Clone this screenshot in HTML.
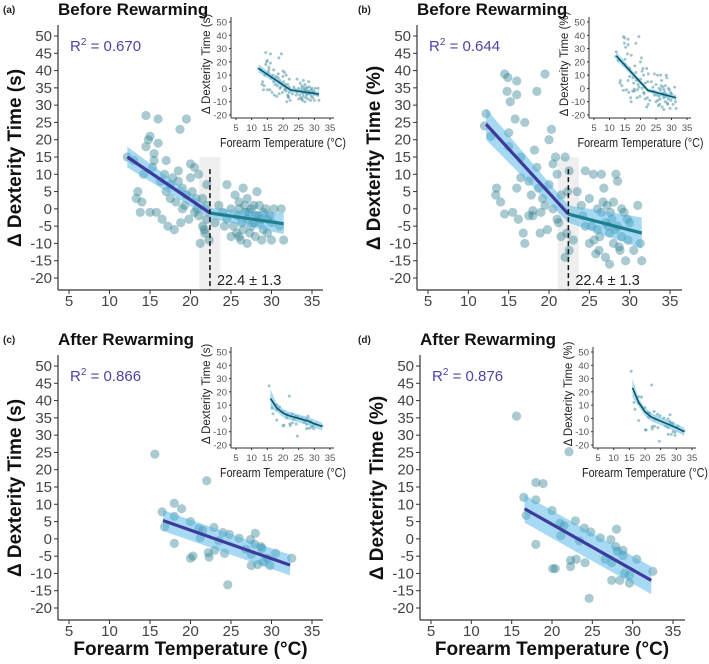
<!DOCTYPE html>
<html><head><meta charset="utf-8"><style>
body{margin:0;background:#fff;}
svg{display:block;font-family:"Liberation Sans",sans-serif;}
</style></head><body>
<svg id="chart" width="709" height="664" viewBox="0 0 709 664"></svg>
<script>
const aX=[12.2,13,13.3,13.5,14,14.5,14.5,14.8,15,15,15.5,15.5,15.8,16,16,16.3,16.5,17,17,17.2,17.5,17.5,18,18.2,18.5,18.5,18.7,18.8,19,19.3,19.5,19.5,19.8,20,20,20.2,20.5,20.5,20.8,21,21,21.2,21.5,21.5,21.8,22,22,22,22.3,16.8,17.8,14.2,13.8,15.3,19,20.7,21.7,23,23.5,24,24.5,24.5,25,25,25.3,25.5,25.8,26,26,26.3,26.5,26.5,26.8,27,27,27,27.3,27.5,27.5,27.8,28,28,28.2,28.5,28.5,28.8,29,29,29.3,29.5,29.5,30,30,30.3,31,31.2,31.5,26.2,27.8,28.3,29.8,25.7,24.2,26.7,28.7,27.2,26];
const aY=[15,14,3,5,2,27,18,20,21,-1,16,14,-1,26,19,8,-3,14,5,-5,7,3,-6,2,11,8,23,-4,6,1,26,4,-3,13,9,5,12,-1,0,10,-2,-10,3,-5,-7,7,1,-3,-9,10,9,10,-1,12,0,3,-6,-4,1,-1,-3,7,-8,0,-5,4,-2,-8,2,-4,6,-6,-1,-10,3,-3,-7,0,-5,1,-2,-8,5,-4,1,-9,-1,-6,0,-3,-7,-9,-4,0,-5,0,-9,-9,-4,-2,-2,-7,-5,1,-3,-1,0];
const bX=[12,12.2,12.8,13.4,13.5,14,14.5,14.5,14.8,14.9,15,15,15.2,15.5,15.8,16,16,16,16.2,16.5,16.8,17,17,17.5,17.8,18,18.2,18.5,18.5,18.7,18.9,19,19.5,19.5,19.8,20,20,20.3,20.5,20.5,20.8,21,21,21.2,21.5,21.5,22,22,22.2,22.3,22.5,22.5,16.5,17.5,18,19.2,23,23.5,24,24.5,24.5,25,25,25.3,25.5,25.8,26,26,26.3,26.5,26.5,26.8,27,27,27.2,27.5,27.5,27.8,28,28,28.3,28.5,28.5,28.8,29,29,29.3,29.5,29.8,30,30.5,31,31.3,31.5,26.2,27.6,28.2,29.7,25.6,24.2,26.7,28.7,27.3];
const bY=[24,27.5,21,4,6,2,39,-1.5,34,38,18,22,31,-1,26,37,33,6,-3,9,-7,25,-10,8,4,-2,17,34,12,6,-7,-1,39,1,-6,7,20,23,0,13,15,-3,10,-4,4,-8,-14,15,-7,5,-12,11,15,-2,-0.5,3,-9,5,1,-5,11,-10,3,-5,10,-13,0,-6,-8,10,-1,6,-14,-4,1,-7,-16,-3,2,-10,10,-5,8,-12,0,-8,-1,-15,-9,-4,-12,1,-10,-15,-12,-1,-6,-3,-9,-2,2,-11,-5];
const cX=[15.6,16.5,16.8,18,18,18,18.9,20,20,20.3,21,21.2,21.5,22,22.2,22.3,22.9,23,23.5,24,24.2,24.6,24.8,26,26.8,27.4,27.5,27.5,27.9,28,28.3,28.7,28.8,29,29.5,29.8,30.5,32.5];
const cY=[24.5,7.8,3.5,10.3,6.5,-1.3,8.7,5,-5.6,-5,3,0.3,2.5,16.8,-4,-5.3,3.3,-3.3,-0.5,1.8,-4.2,-13.3,1.3,0.2,-3,-0.2,-4.5,-7.7,-1.5,1.6,-7.4,-2.2,-2.8,-6.6,-5.6,-7.7,-4.2,-5.6];
const dX=[15.6,16.5,16.8,18,18,18,18.9,20,20.1,20.4,21,21.1,21.5,22.1,22.3,22.3,22.9,23,23.4,24,24.1,24.6,24.8,26,26.6,27.3,27.4,27.4,27.9,28,28.1,28.4,28.8,28.8,29,29.6,29.6,30.5,32.5];
const dY=[35.5,12,6.8,16.3,11.3,-1.6,16,8.2,-8.6,-8.6,4.5,0.9,3.8,25.2,-6.2,-8,5.2,-5.9,-0.6,3.1,-6.9,-17.2,2,0.3,-5.9,-0.2,-6.9,-12,-2.2,2.8,-3.6,-12,-3.3,-4.8,-9.9,-10.5,-12.8,-5.9,-9.4];
// segmented fits: [x0,y0,xbreak,ybreak,x1,y1]
const aFit=[12.2,15,22.4,-1.2,31.5,-4.3];
const bFit=[12.2,24.5,22.4,-1.5,31.5,-7];
const cFit=[16.6,5.3,32.3,-7.6];
const dFit=[16.6,8.7,32.3,-12];
const cCurveX=[16,18,20,22,25,28,30,32.5];
const cCurveY=[15,8,4,2,0,-2,-4,-6];
const dCurveX=[16,18,20,22,25,28,30,32.5];
const dCurveY=[23,12,5,1,-2,-5,-7,-10];
const yTicks=[50,45,40,35,30,25,20,15,10,5,0,-5,-10,-15,-20];
const xTicks=[5,10,15,20,25,30,35];
const inYTicks=[50,40,30,20,10,0,-10,-20];

const NS="http://www.w3.org/2000/svg";
const svg=document.getElementById('chart');
function el(tag,attrs,parent,txt){const e=document.createElementNS(NS,tag);for(const k in attrs)e.setAttribute(k,attrs[k]);if(txt!==undefined)e.textContent=txt;(parent||svg).appendChild(e);return e;}

function panel(p){
  const g=el('g',{});
  
  
  const sx=v=>p.x5+(v-5)*(p.x35-p.x5)/30;
  const sy=v=>p.y0+36+(50-v)*(242/70);
  const top=p.y0+25,bot=p.y0+290,ax=p.x5-11,right=p.x5+254;
  let t=el('text',{x:p.lx,y:p.y0+13,'font-size':10,'font-weight':'bold',fill:'#222'},g,'('+p.id+')');
  
  t=el('text',{x:ax,y:p.y0+15,'font-size':17,'font-weight':'bold',fill:'#111'},g,p.title);
  
  if(p.brk){
    const r=el('rect',{x:sx(p.brk-1.3),y:sy(15),width:sx(p.brk+1.3)-sx(p.brk-1.3),height:bot-sy(15),fill:'#e8e8e8',opacity:0.7},g);
    
  }
  for(let i=0;i<p.X.length;i++){
    const c=el('circle',{cx:sx(p.X[i]),cy:sy(p.Y[i]),r:4.6,fill:'#2f8090','fill-opacity':0.42},g);
    
  }
  const segs=[];
  if(p.fit.length===6){segs.push([p.fit[0],p.fit[1],p.fit[2],p.fit[3],'#3d3a9c']);segs.push([p.fit[2],p.fit[3],p.fit[4],p.fit[5],'#1d7f8e']);}
  else segs.push([p.fit[0],p.fit[1],p.fit[2],p.fit[3],'#3d3a9c']);
  segs.forEach((s,k)=>{
    const wm=p.bandm;
    const w1=(k===0&&segs.length>1)?wm:p.band0;
    const wa=(k===1)?wm:p.band0;
    const poly=[[s[0],s[1]+wa],[s[2],s[3]+w1],[s[2],s[3]-w1],[s[0],s[1]-wa]].map(q=>sx(q[0])+','+sy(q[1])).join(' ');
    const b=el('polygon',{points:poly,fill:'#4fb3e6','fill-opacity':0.5},g);
    
  });
  segs.forEach(s=>{
    const l=el('line',{x1:sx(s[0]),y1:sy(s[1]),x2:sx(s[2]),y2:sy(s[3]),stroke:s[4],'stroke-width':3.2},g);
    
  });
  if(p.brk){
    const l=el('line',{x1:sx(p.brk),y1:sy(11.5),x2:sx(p.brk),y2:bot,stroke:'#111','stroke-width':1.5,'stroke-dasharray':'5,3'},g);
    
    t=el('text',{x:sx(p.brk)+7,y:p.y0+285,'font-size':14.5,fill:'#222'},g,'22.4 ± 1.3');
    
  }
  let a=el('line',{x1:ax,y1:top,x2:ax,y2:bot,stroke:'#333','stroke-width':1.2},g);
  
  a=el('line',{x1:ax,y1:bot,x2:right,y2:bot,stroke:'#333','stroke-width':1.2},g);
  
  yTicks.forEach(v=>{
    el('line',{x1:ax-4,y1:sy(v),x2:ax,y2:sy(v),stroke:'#333'},g);
    const tt=el('text',{x:ax-6,y:sy(v)+5,'font-size':15,fill:'#444','text-anchor':'end'},g,v);
    
  });
  xTicks.forEach(v=>{
    el('line',{x1:sx(v),y1:bot,x2:sx(v),y2:bot+4,stroke:'#333'},g);
    const tt=el('text',{x:sx(v),y:bot+16,'font-size':15,fill:'#444','text-anchor':'middle'},g,v);
    
  });
  t=el('text',{x:0,y:0,'font-size':19,'font-weight':'bold',fill:'#111','text-anchor':'middle',transform:`translate(${ax-37},${p.y0+158}) rotate(-90)`},g,'Δ Dexterity Time ('+p.unit+')');
  
  if(p.xtitle){
    t=el('text',{x:sx(20),y:p.y0+325,'font-size':19,'font-weight':'bold',fill:'#111','text-anchor':'middle'},g,'Forearm Temperature (°C)');
    
  }
  t=el('text',{x:ax+12,y:p.y0+51,'font-size':15,fill:'#4b45a8'},g);
  
  el('tspan',{},t,'R');el('tspan',{dy:-6,'font-size':10},t,'2');el('tspan',{dy:6},t,' = '+p.r2);
  // inset
  const ig=el('g',{},g);
  
  const ix=v=>p.i5+(v-5)*(p.i35-p.i5)/30;
  const iy=v=>p.y0+22+(50-v)*(93/70);
  const itop=p.y0+17,ibot=p.y0+118,iax=p.i5-5,iright=p.i35+4;
  for(let i=0;i<p.X.length;i++){
    const c=el('circle',{cx:ix(p.X[i]),cy:iy(p.Y[i]),r:1.5,fill:'#3f8c99','fill-opacity':0.5},ig);
    
  }
  if(p.cx){
    const up=p.cx.map((v,i)=>ix(v)+','+iy(p.cy[i]+3+(i===0?4:0))).join(' ');
    const dn=p.cx.slice().reverse().map((v,j)=>{const i=p.cx.length-1-j;return ix(v)+','+iy(p.cy[i]-3-(i===0?4:0));}).join(' ');
    el('polygon',{points:up+' '+dn,fill:'#4fb3e6','fill-opacity':0.5},ig);
    const pl=el('polyline',{points:p.cx.map((v,i)=>ix(v)+','+iy(p.cy[i])).join(' '),fill:'none',stroke:'#0f5560','stroke-width':1.6},ig);
    
  } else {
    const f=p.fit;
    const pts=[[f[0],f[1]],[f[2],f[3]],[f[4],f[5]]];
    el('polygon',{points:[[f[0],f[1]+3],[f[2],f[3]+1.5],[f[4],f[5]+2],[f[4],f[5]-2],[f[2],f[3]-1.5],[f[0],f[1]-3]].map(q=>ix(q[0])+','+iy(q[1])).join(' '),fill:'#4fb3e6','fill-opacity':0.5},ig);
    const pl=el('polyline',{points:pts.map(q=>ix(q[0])+','+iy(q[1])).join(' '),fill:'none',stroke:'#0f5560','stroke-width':1.6},ig);
    
  }
  el('line',{x1:iax,y1:itop,x2:iax,y2:ibot,stroke:'#333'},ig);
  el('line',{x1:iax,y1:ibot,x2:iright,y2:ibot,stroke:'#333'},ig);
  inYTicks.forEach(v=>{
    el('line',{x1:iax-2,y1:iy(v),x2:iax,y2:iy(v),stroke:'#333'},ig);
    el('text',{x:iax-4,y:iy(v)+3.5,'font-size':9.5,fill:'#555','text-anchor':'end'},ig,v);
  });
  xTicks.forEach(v=>{
    el('line',{x1:ix(v),y1:ibot,x2:ix(v),y2:ibot+2,stroke:'#333'},ig);
    el('text',{x:ix(v),y:ibot+13,'font-size':9.5,fill:'#555','text-anchor':'middle'},ig,v);
  });
  el('text',{x:ix(20)-63,y:p.y0+147,'font-size':12.5,fill:'#222',textLength:126,lengthAdjust:'spacingAndGlyphs'},ig,'Forearm Temperature (°C)');
  el('text',{x:0,y:0,'font-size':11.5,fill:'#222','text-anchor':'middle',transform:`translate(${iax-21},${p.y0+64}) rotate(-90)`},ig,'Δ Dexterity Time ('+p.unit+')');
}

panel({id:'a',lx:3,title:'Before Rewarming',y0:0,x5:69,x35:312,X:aX,Y:aY,fit:aFit,brk:22.4,band0:3,bandm:1.5,unit:'s',r2:'0.670',i5:236,i35:330,xtitle:false});
panel({id:'b',lx:358,title:'Before Rewarming',y0:0,x5:428,x35:670,X:bX,Y:bY,fit:bFit,brk:22.4,band0:4.5,bandm:2.5,unit:'%',r2:'0.644',i5:594,i35:687,xtitle:false});
panel({id:'c',lx:3,title:'After Rewarming',y0:330,x5:69,x35:312,X:cX,Y:cY,fit:cFit,band0:3,unit:'s',r2:'0.866',i5:236,i35:330,xtitle:true,cx:cCurveX,cy:cCurveY});
panel({id:'d',lx:358,title:'After Rewarming',y0:330,x5:431,x35:673,X:dX,Y:dY,fit:dFit,band0:4,unit:'%',r2:'0.876',i5:598,i35:692,xtitle:true,cx:dCurveX,cy:dCurveY});
</script>
</body></html>
